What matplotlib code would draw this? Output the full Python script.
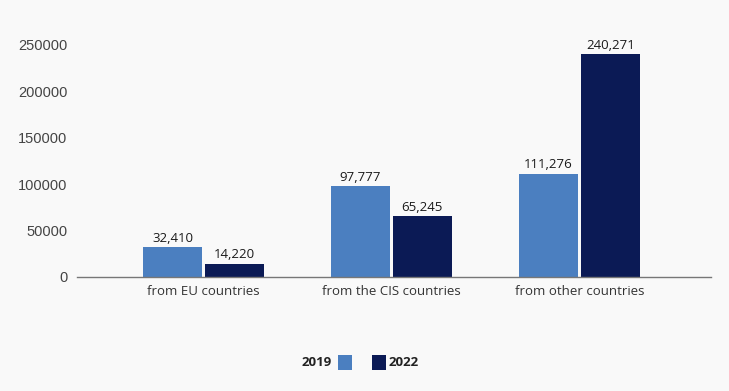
import matplotlib
matplotlib.use("Agg")
import matplotlib.pyplot as plt
from matplotlib.patches import Rectangle
import numpy as np

# Data
categories = ["from EU countries", "from the CIS countries", "from other countries"]
years = ["2019", "2022"]
values_2019 = [32410, 97777, 111276]
values_2022 = [14220, 65245, 240271]
yticks = [0, 50000, 100000, 150000, 200000, 250000]

c2019 = "#4b7fc0"
c2022 = "#0b1a55"
bg = "#f9f9f9"

plt.rcParams["font.family"] = ["Open Sans", "DejaVu Sans"]

fig = plt.figure(figsize=(7.29, 3.91), dpi=100, facecolor=bg)
ax = fig.add_axes([0.105, 0.2916, 0.870, 0.5934])
ax.set_facecolor(bg)

x = np.arange(len(categories))
w = 0.314
gap = 0.008
b1 = ax.bar(x - w / 2 - gap, values_2019, w, color=c2019)
b2 = ax.bar(x + w / 2 + gap, values_2022, w, color=c2022)

for bars, vals in ((b1, values_2019), (b2, values_2022)):
    for rect, v in zip(bars, vals):
        ax.text(
            rect.get_x() + rect.get_width() / 2,
            v + 2500,
            "{:,}".format(v),
            ha="center",
            va="bottom",
            fontsize=9.5,
            fontweight="medium",
            color="#1a1a1a",
            clip_on=False,
        )

ax.set_xlim(-0.676, 2.70)
ax.set_ylim(0, 250000)
ax.set_yticks(yticks)
ax.set_yticklabels([str(t) for t in yticks], fontsize=10.5, color="#444444",
                   family="Liberation Sans")
ax.set_xticks(x)
ax.set_xticklabels(categories, fontsize=9.5, color="#333333")
ax.tick_params(axis="y", length=0, pad=6.5)
ax.tick_params(axis="x", length=0, pad=6)

for s in ("top", "right", "left"):
    ax.spines[s].set_visible(False)
ax.spines["bottom"].set_color("#777777")
ax.spines["bottom"].set_linewidth(1.0)

# Legend drawn by hand: "2019 [box]   [box] 2022"
ly = 1 - 362 / 391
bw, bh = 14 / 729, 15 / 391
fig.text(332 / 729, ly, years[0], ha="right", va="center", fontsize=9.5,
         fontweight="bold", color="#222222")
fig.add_artist(Rectangle((338 / 729, ly - bh / 2), bw, bh, facecolor=c2019,
                         edgecolor="none", transform=fig.transFigure))
fig.add_artist(Rectangle((372 / 729, ly - bh / 2), bw, bh, facecolor=c2022,
                         edgecolor="none", transform=fig.transFigure))
fig.text(389 / 729, ly, years[1], ha="left", va="center", fontsize=9.5,
         fontweight="bold", color="#222222")

fig.savefig("out.png", facecolor=bg)
